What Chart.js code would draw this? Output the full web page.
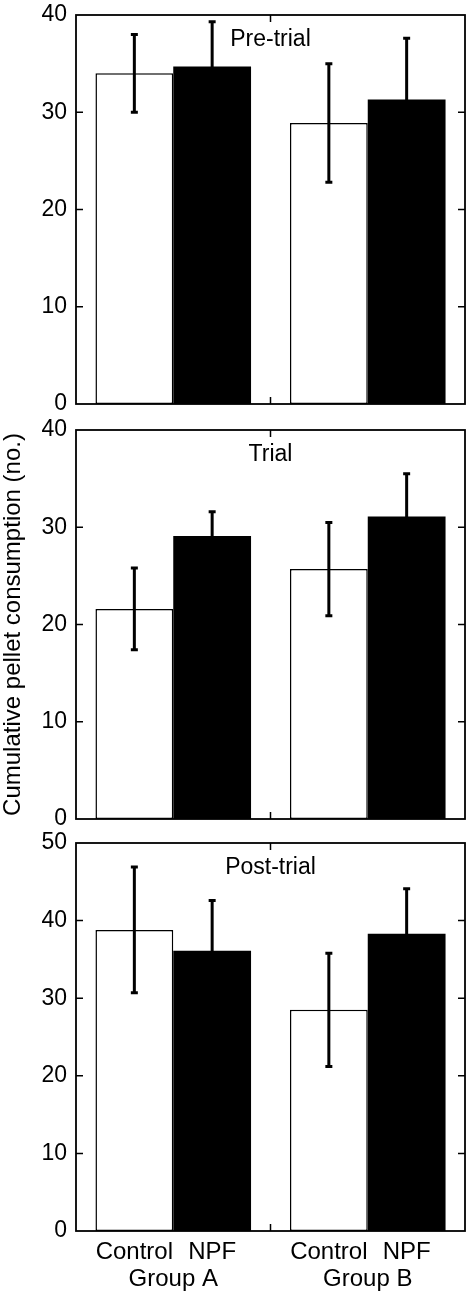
<!DOCTYPE html>
<html>
<head>
<meta charset="utf-8">
<script src="https://cdn.jsdelivr.net/npm/chart.js@4.4.1/dist/chart.umd.min.js"></script>
<style>
  html, body { margin: 0; padding: 0; background: #fff; }
  body { width: 468px; height: 1293px; position: relative; overflow: hidden; }
  canvas { position: absolute; left: 0; }
</style>
</head>
<body>
<canvas id="pre" width="468" height="440" style="top:-10px"></canvas>
<canvas id="trial" width="468" height="440" style="top:405px"></canvas>
<canvas id="post" width="468" height="473" style="top:820px"></canvas>
<script>
// categories and series names
const groups = ['Group A', 'Group B'];
const seriesNames = ['Control', 'NPF'];
const panelTitles = ['Pre-trial', 'Trial', 'Post-trial'];
const yMaxes = [40, 40, 50];

// means and error half-widths
const preControl = [34.0, 28.9];
const preControlErr = [4.0, 6.1];
const preNpf = [34.7, 31.3];
const preNpfErr = [4.6, 6.3];

const trialControl = [21.6, 25.7];
const trialControlErr = [4.2, 4.8];
const trialNpf = [29.1, 31.1];
const trialNpfErr = [2.5, 4.4];

const postControl = [38.8, 28.5];
const postControlErr = [8.1, 7.3];
const postNpf = [36.1, 38.3];
const postNpfErr = [6.5, 5.8];

const FONT = '"Liberation Sans", Arial, Helvetica, sans-serif';

// frame with inner ticks, error bars, panel title and per-bar labels
const panelDecor = {
  id: 'panelDecor',
  afterDatasetsDraw(chart, args, opts) {
    const { ctx, chartArea: a, scales: { x, y } } = chart;
    ctx.save();
    ctx.strokeStyle = '#000';
    ctx.fillStyle = '#000';
    ctx.lineCap = 'butt';

    // error bars
    chart.data.datasets.forEach((ds, i) => {
      const meta = chart.getDatasetMeta(i);
      meta.data.forEach((bar, j) => {
        const v = ds.data[j];
        const e = ds.errors[j];
        const top = y.getPixelForValue(v + e);
        const bot = y.getPixelForValue(v - e);
        ctx.lineWidth = 3;
        ctx.beginPath();
        ctx.moveTo(bar.x, top);
        ctx.lineTo(bar.x, bot);
        ctx.moveTo(bar.x - 3.5, top);
        ctx.lineTo(bar.x + 3.5, top);
        ctx.moveTo(bar.x - 3.5, bot);
        ctx.lineTo(bar.x + 3.5, bot);
        ctx.stroke();
      });
    });

    // frame
    ctx.lineWidth = 1.8;
    ctx.strokeRect(a.left, a.top, a.right - a.left, a.bottom - a.top);

    // inner ticks on both sides
    ctx.lineWidth = 1.5;
    ctx.beginPath();
    y.ticks.forEach(t => {
      const py = y.getPixelForValue(t.value);
      if (Math.abs(py - a.top) < 1 || Math.abs(py - a.bottom) < 1) return;
      ctx.moveTo(a.left, py);
      ctx.lineTo(a.left + 7, py);
      ctx.moveTo(a.right - 7, py);
      ctx.lineTo(a.right, py);
    });
    const mx = x.getPixelForValue(0.5);
    ctx.moveTo(mx, a.top);
    ctx.lineTo(mx, a.top + 7);
    ctx.moveTo(mx, a.bottom);
    ctx.lineTo(mx, a.bottom - 7);
    ctx.stroke();

    // panel title
    ctx.font = '23px ' + FONT;
    ctx.textAlign = 'center';
    ctx.textBaseline = 'middle';
    ctx.fillText(opts.title, mx, a.top + 25);

    // series names under each bar
    if (opts.barLabels) {
      ctx.font = '24px ' + FONT;
      chart.data.datasets.forEach((ds, i) => {
        chart.getDatasetMeta(i).data.forEach(bar => {
          ctx.fillText(ds.label, bar.x, a.bottom + 21);
        });
      });
    }
    ctx.restore();
  }
};

function makePanel(id, idx, control, controlErr, npf, npfErr, opt) {
  const ctx = document.getElementById(id).getContext('2d');
  const xScale = {
    display: !!opt.showX,
    grid: { display: false, drawTicks: false },
    border: { display: false },
    ticks: { color: '#000', font: { family: FONT, size: 24 }, padding: 34, maxRotation: 0 }
  };
  if (opt.showX) {
    xScale.afterFit = s => { s.height = 62; };
  }
  return new Chart(ctx, {
    type: 'bar',
    data: {
      labels: groups,
      datasets: [
        {
          label: seriesNames[0],
          data: control,
          errors: controlErr,
          backgroundColor: '#fff',
          borderColor: '#000',
          borderWidth: 1.5,
          borderSkipped: false
        },
        {
          label: seriesNames[1],
          data: npf,
          errors: npfErr,
          backgroundColor: '#000',
          borderWidth: 0
        }
      ]
    },
    options: {
      responsive: false,
      animation: false,
      events: [],
      layout: { padding: { top: opt.padTop, bottom: opt.padBottom, left: 0, right: 3 } },
      datasets: { bar: { categoryPercentage: 0.8, barPercentage: 1.0 } },
      scales: {
        x: xScale,
        y: {
          min: 0,
          max: yMaxes[idx],
          grid: { display: false, drawTicks: false },
          border: { display: false },
          ticks: { stepSize: 10, color: '#000', font: { family: FONT, size: 23, lineHeight: 1 }, padding: 9 },
          title: {
            display: !!opt.yTitle,
            text: opt.yTitle || '',
            color: '#000',
            font: { family: FONT, size: 24, lineHeight: 1 },
            padding: { top: 1, bottom: 0 }
          },
          afterFit(s) { s.width = 76; }
        }
      },
      plugins: {
        legend: { display: false },
        tooltip: { enabled: false },
        panelDecor: { title: panelTitles[idx], barLabels: !!opt.showX }
      }
    },
    plugins: [panelDecor]
  });
}

makePanel('pre', 0, preControl, preControlErr, preNpf, preNpfErr, { padTop: 25, padBottom: 26 });
makePanel('trial', 1, trialControl, trialControlErr, trialNpf, trialNpfErr,
  { padTop: 25, padBottom: 26, yTitle: 'Cumulative pellet consumption (no.)' });
makePanel('post', 2, postControl, postControlErr, postNpf, postNpfErr, { padTop: 23, padBottom: 0, showX: true });
</script>
</body>
</html>
